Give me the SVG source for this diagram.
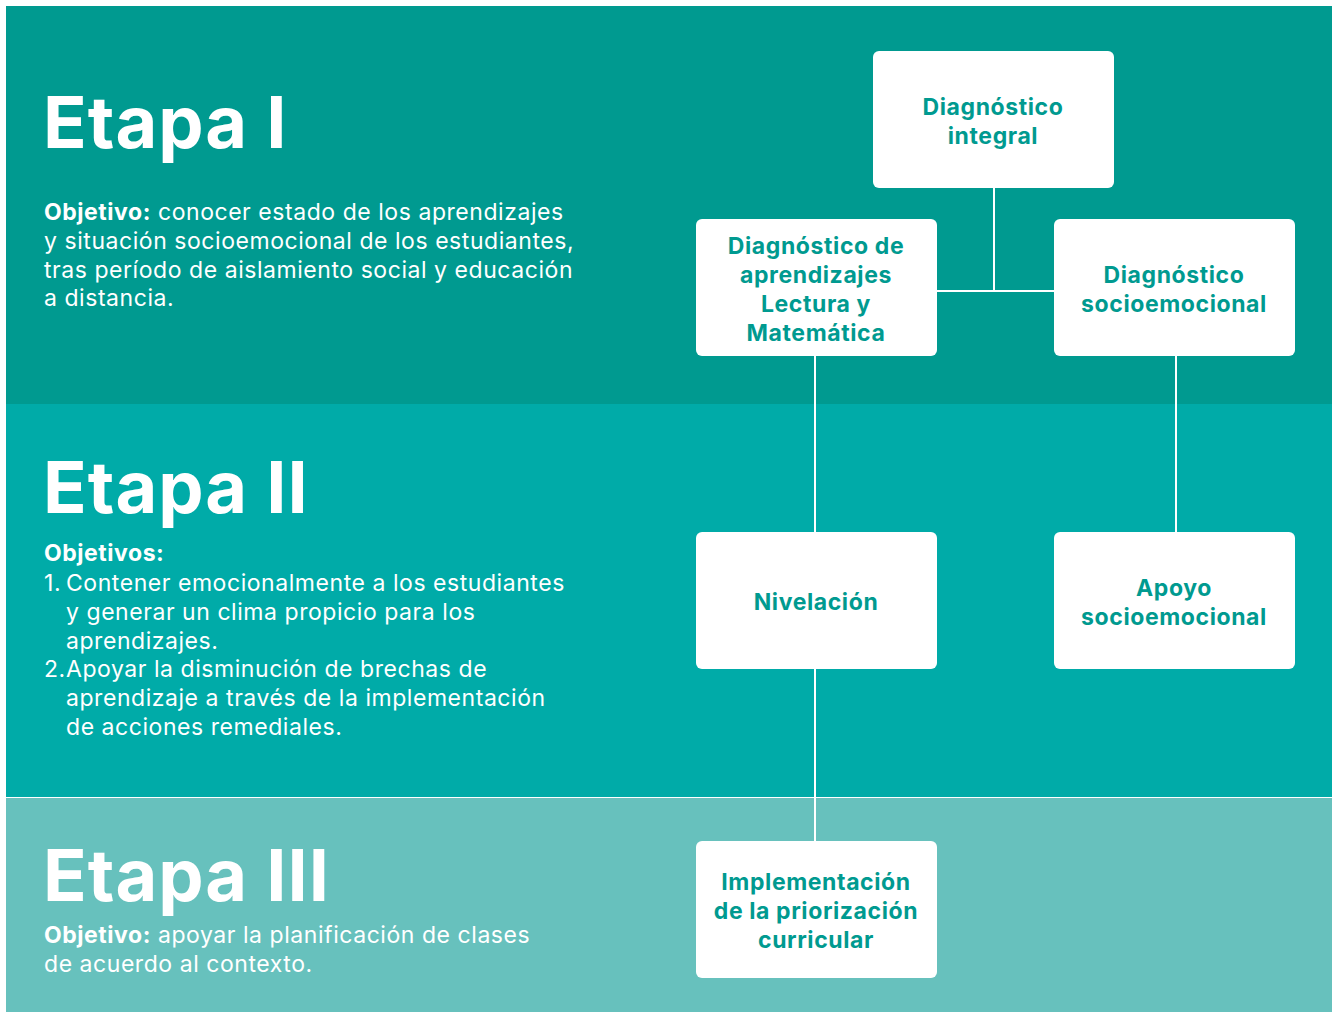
<svg xmlns="http://www.w3.org/2000/svg" width="1332" height="1012" viewBox="0 0 1332 1012">
<style>
.h{font-family:Inter,"Liberation Sans",sans-serif;font-weight:700;font-size:72px;letter-spacing:1px;fill:#fff}
.b{font-family:Inter,"Liberation Sans",sans-serif;font-size:23px;letter-spacing:0.55px;fill:#fff}
.bb{font-weight:700}
.n{fill:#fff}
.t{font-family:Inter,"Liberation Sans",sans-serif;font-weight:700;font-size:23px;letter-spacing:0.6px;fill:#009a90;text-anchor:middle}
.c{stroke:#fff;stroke-width:2;fill:none}
</style>
<rect width="1332" height="1012" fill="#fff"/>
<rect x="6" y="6" width="1326" height="398" fill="#009a90"/>
<rect x="6" y="404" width="1326" height="393" fill="#00aba8"/>
<rect x="6" y="798" width="1326" height="214" fill="#67c1bd"/>

<g id="etapa1">
<text class="h" x="43" y="148">Etapa I</text>
<text class="b"><tspan x="44" y="220"><tspan class="bb">Objetivo:</tspan> conocer estado de los aprendizajes</tspan><tspan x="44" y="249">y situación socioemocional de los estudiantes,</tspan><tspan x="44" y="278">tras período de aislamiento social y educación</tspan><tspan x="44" y="306">a distancia.</tspan></text>
</g>
<g id="etapa2">
<text class="h" x="43" y="513">Etapa II</text>
<text class="b"><tspan class="bb" x="44" y="561">Objetivos:</tspan><tspan x="44" y="591">1.</tspan><tspan x="66" y="591">Contener emocionalmente a los estudiantes</tspan><tspan x="66" y="620">y generar un clima propicio para los</tspan><tspan x="66" y="649">aprendizajes.</tspan><tspan x="44" y="677">2.</tspan><tspan x="66" y="677">Apoyar la disminución de brechas de</tspan><tspan x="66" y="706">aprendizaje a través de la implementación</tspan><tspan x="66" y="735">de acciones remediales.</tspan></text>
</g>
<g id="etapa3">
<text class="h" x="43" y="901">Etapa III</text>
<text class="b"><tspan x="44" y="943"><tspan class="bb">Objetivo:</tspan> apoyar la planificación de clases</tspan><tspan x="44" y="972">de acuerdo al contexto.</tspan></text>
</g>

<g id="connectors">
<path class="c" d="M994 188V291M937 291H1054M815 356V532M815 669V841M1176 356V532"/>
</g>

<g id="n-integral">
<rect class="n" x="873" y="51" width="241" height="137" rx="6"/>
<text class="t"><tspan x="993" y="115">Diagnóstico</tspan><tspan x="993" y="144">integral</tspan></text>
</g>
<g id="n-aprendizajes">
<rect class="n" x="696" y="219" width="241" height="137" rx="6"/>
<text class="t"><tspan x="816" y="254">Diagnóstico de</tspan><tspan x="816" y="283">aprendizajes</tspan><tspan x="816" y="312">Lectura y</tspan><tspan x="816" y="341">Matemática</tspan></text>
</g>
<g id="n-socio">
<rect class="n" x="1054" y="219" width="241" height="137" rx="6"/>
<text class="t"><tspan x="1174" y="283">Diagnóstico</tspan><tspan x="1174" y="312">socioemocional</tspan></text>
</g>
<g id="n-nivelacion">
<rect class="n" x="696" y="532" width="241" height="137" rx="6"/>
<text class="t"><tspan x="816" y="610">Nivelación</tspan></text>
</g>
<g id="n-apoyo">
<rect class="n" x="1054" y="532" width="241" height="137" rx="6"/>
<text class="t"><tspan x="1174" y="596">Apoyo</tspan><tspan x="1174" y="625">socioemocional</tspan></text>
</g>
<g id="n-implementacion">
<rect class="n" x="696" y="841" width="241" height="137" rx="6"/>
<text class="t"><tspan x="816" y="890">Implementación</tspan><tspan x="816" y="919">de la priorización</tspan><tspan x="816" y="948">curricular</tspan></text>
</g>
</svg>
